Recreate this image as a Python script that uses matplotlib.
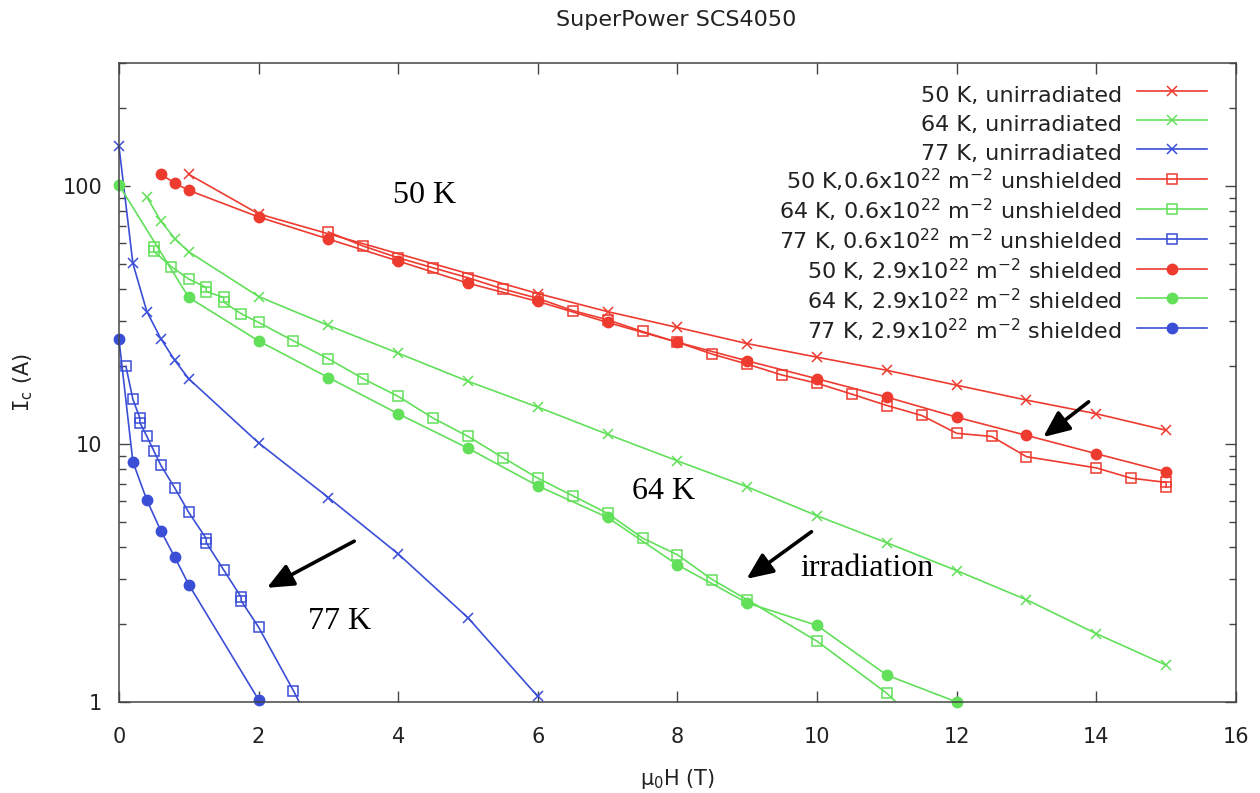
import matplotlib
matplotlib.use('Agg')
import matplotlib.pyplot as plt
from matplotlib.ticker import LogLocator, NullFormatter, FixedLocator, FixedFormatter

plt.rcParams['font.family'] = ['DejaVu Sans']
plt.rcParams['mathtext.default'] = 'regular'

# colours per temperature
c50 = '#ee3b30'
c64 = '#62e05a'
c77 = '#3a4ed6'

# 50 K
x50_un = [1, 2, 6, 7, 8, 9, 10, 11, 12, 13, 14, 15]
y50_un = [111, 78, 38.3, 32.6, 28.3, 24.5, 21.7, 19.3, 16.9, 14.8, 13.1, 11.3]
x50_06 = [3, 3.5, 4, 4.5, 5, 5.5, 6, 6.5, 7, 7.5, 8, 8.5, 9, 9.5, 10, 10.5, 11, 11.5, 12, 12.5, 13, 14, 14.5, 15, 15]
y50_06 = [66.4, 58.5, 52.7, 48.2, 44.1, 39.9, 36.7, 32.9, 30.3, 27.3, 24.8, 22.3, 20.4, 18.5, 17.2, 15.6, 14.1, 12.9,
          11.0, 10.7, 8.93, 8.08, 7.37, 7.1, 6.8]
x50_29 = [0.6, 0.8, 1, 2, 3, 4, 5, 6, 7, 8, 9, 10, 11, 12, 13, 14, 15]
y50_29 = [111, 102.7, 96.2, 75.9, 62.3, 51.2, 42.0, 35.7, 29.6, 24.8, 21.0, 17.9, 15.2, 12.7, 10.8, 9.17, 7.8]

# 64 K
x64_un = [0.4, 0.6, 0.8, 1, 2, 3, 4, 5, 6, 7, 8, 9, 10, 11, 12, 13, 14, 15]
y64_un = [90.7, 73.1, 62.6, 55.6, 37.3, 28.8, 22.5, 17.5, 13.9, 10.9, 8.6, 6.82, 5.27, 4.14, 3.23, 2.49, 1.84, 1.39]
x64_06 = [0.5, 0.5, 0.75, 1, 1.25, 1.25, 1.5, 1.5, 1.75, 2, 2.5, 3, 3.5, 4, 4.5, 5, 5.5, 6, 6.5, 7, 7.5, 8, 8.5, 9,
          10, 11, 12]
y64_06 = [57.8, 55.8, 48.7, 43.6, 40.5, 39.0, 37.0, 35.5, 32.0, 29.6, 25.1, 21.4, 17.9, 15.3, 12.6, 10.7, 8.86, 7.37,
          6.30, 5.38, 4.32, 3.72, 2.98, 2.49, 1.72, 1.08, 0.6]
x64_29 = [0, 1, 2, 3, 4, 5, 6, 7, 8, 9, 10, 11, 12]
y64_29 = [101, 37.0, 25.1, 18.1, 13.1, 9.63, 6.88, 5.19, 3.40, 2.42, 1.98, 1.27, 1.0]

# 77 K
x77_un = [0, 0.2, 0.4, 0.6, 0.8, 1, 2, 3, 4, 5, 6]
y77_un = [142.7, 50.1, 32.6, 25.6, 21.1, 17.9, 10.1, 6.2, 3.75, 2.12, 1.05]
x77_06 = [0.1, 0.2, 0.3, 0.3, 0.4, 0.5, 0.6, 0.8, 1, 1.25, 1.25, 1.5, 1.75, 1.75, 2, 2.5, 3]
y77_06 = [20.0, 14.9, 12.6, 12.1, 10.7, 9.4, 8.27, 6.75, 5.43, 4.3, 4.15, 3.25, 2.55, 2.47, 1.95, 1.105, 0.6]
x77_29 = [0, 0.2, 0.4, 0.6, 0.8, 1, 2]
y77_29 = [25.5, 8.52, 6.06, 4.61, 3.64, 2.85, 1.02]

labels = [
    '50 K, unirradiated',
    '64 K, unirradiated',
    '77 K, unirradiated',
    '50 K,0.6x10$^{22}$ m$^{-2}$ unshielded',
    '64 K, 0.6x10$^{22}$ m$^{-2}$ unshielded',
    '77 K, 0.6x10$^{22}$ m$^{-2}$ unshielded',
    '50 K, 2.9x10$^{22}$ m$^{-2}$ shielded',
    '64 K, 2.9x10$^{22}$ m$^{-2}$ shielded',
    '77 K, 2.9x10$^{22}$ m$^{-2}$ shielded',
]

series = [
    (x50_un, y50_un, c50, 'x'), (x64_un, y64_un, c64, 'x'), (x77_un, y77_un, c77, 'x'),
    (x50_06, y50_06, c50, 's'), (x64_06, y64_06, c64, 's'), (x77_06, y77_06, c77, 's'),
    (x50_29, y50_29, c50, 'o'), (x64_29, y64_29, c64, 'o'), (x77_29, y77_29, c77, 'o'),
]

fig = plt.figure(figsize=(12.6, 7.93), dpi=100)
ax = fig.add_axes([0.0944, 0.1148, 0.8865, 0.8058])

for (xs, ys, col, mk), lab in zip(series, labels):
    # only the curves that run below 1 A need clipping
    clip = min(ys) < 1
    if mk == 's':
        ax.plot(xs, ys, color=col, lw=1.2, marker=mk, ms=6.8, mfc='none', mec=col, mew=1.1,
                label=lab, clip_on=clip)
    else:
        ax.plot(xs, ys, color=col, lw=1.2, marker=mk, ms=7.4 if mk == 'o' else 7.2, mfc=col, mec=col,
                mew=1.1, label=lab, clip_on=clip)

ax.set_yscale('log')
ax.set_xlim(0, 16)
ax.set_ylim(1, 300)
ax.xaxis.set_major_locator(FixedLocator(range(0, 17, 2)))
ax.yaxis.set_major_locator(FixedLocator([1, 10, 100]))
ax.yaxis.set_major_formatter(FixedFormatter(['1', '10', '100']))
ax.yaxis.set_minor_locator(LogLocator(base=10, subs=range(2, 10)))
ax.yaxis.set_minor_formatter(NullFormatter())

for s in ax.spines.values():
    s.set_color('#444444')
    s.set_linewidth(1.1)
ax.tick_params(which='both', direction='in', top=True, right=True, color='#444444', width=1.0,
               labelcolor='#222222', labelsize=15)
ax.tick_params(which='major', length=8)
ax.tick_params(which='minor', length=5)
ax.tick_params(axis='x', pad=18)
ax.tick_params(axis='y', pad=12)

ax.set_xlabel('μ$_0$H (T)', fontsize=15, color='#222222')
ax.xaxis.set_label_coords(0.5, -0.102)
ax.set_ylabel(r'$\mathtt{I}_c$ (A)', fontsize=15, color='#222222')
ax.yaxis.set_label_coords(-0.075, 0.5)

fig.text(0.537, 1 - 20 / 793, 'SuperPower SCS4050', ha='center', va='center', fontsize=16, color='#222222')

# tall handle boxes keep every legend row the same height
leg = ax.legend(loc='upper right', bbox_to_anchor=(0.974, 0.972), frameon=False, markerfirst=False,
                fontsize=16, handlelength=3.15, handletextpad=0.68, labelspacing=0.04,
                handleheight=1.55, borderpad=0, borderaxespad=0)
for t in leg.get_texts():
    t.set_color('#222222')

# temperature labels and irradiation arrows
serif = 'Liberation Serif'
ax.text(3.93, 92, '50 K', fontsize=23, family=serif, va='center')
ax.text(7.35, 6.53, '64 K', fontsize=23, family=serif, va='center')
ax.text(2.71, 2.05, '77 K', fontsize=23, family=serif, va='center')
ax.text(9.76, 3.29, 'irradiation', fontsize=23, family=serif, va='center')

arrow = dict(arrowstyle='-|>,head_length=0.8,head_width=0.35', color='black', lw=2.6,
             mutation_scale=20, shrinkA=0, shrinkB=0)
ax.annotate('', xy=(2.12, 2.77), xytext=(3.37, 4.20), arrowprops=arrow)
ax.annotate('', xy=(8.99, 3.00), xytext=(9.92, 4.57), arrowprops=arrow)
ax.annotate('', xy=(13.24, 10.64), xytext=(13.89, 14.57), arrowprops=arrow)

fig.savefig('out.png', dpi=100)
